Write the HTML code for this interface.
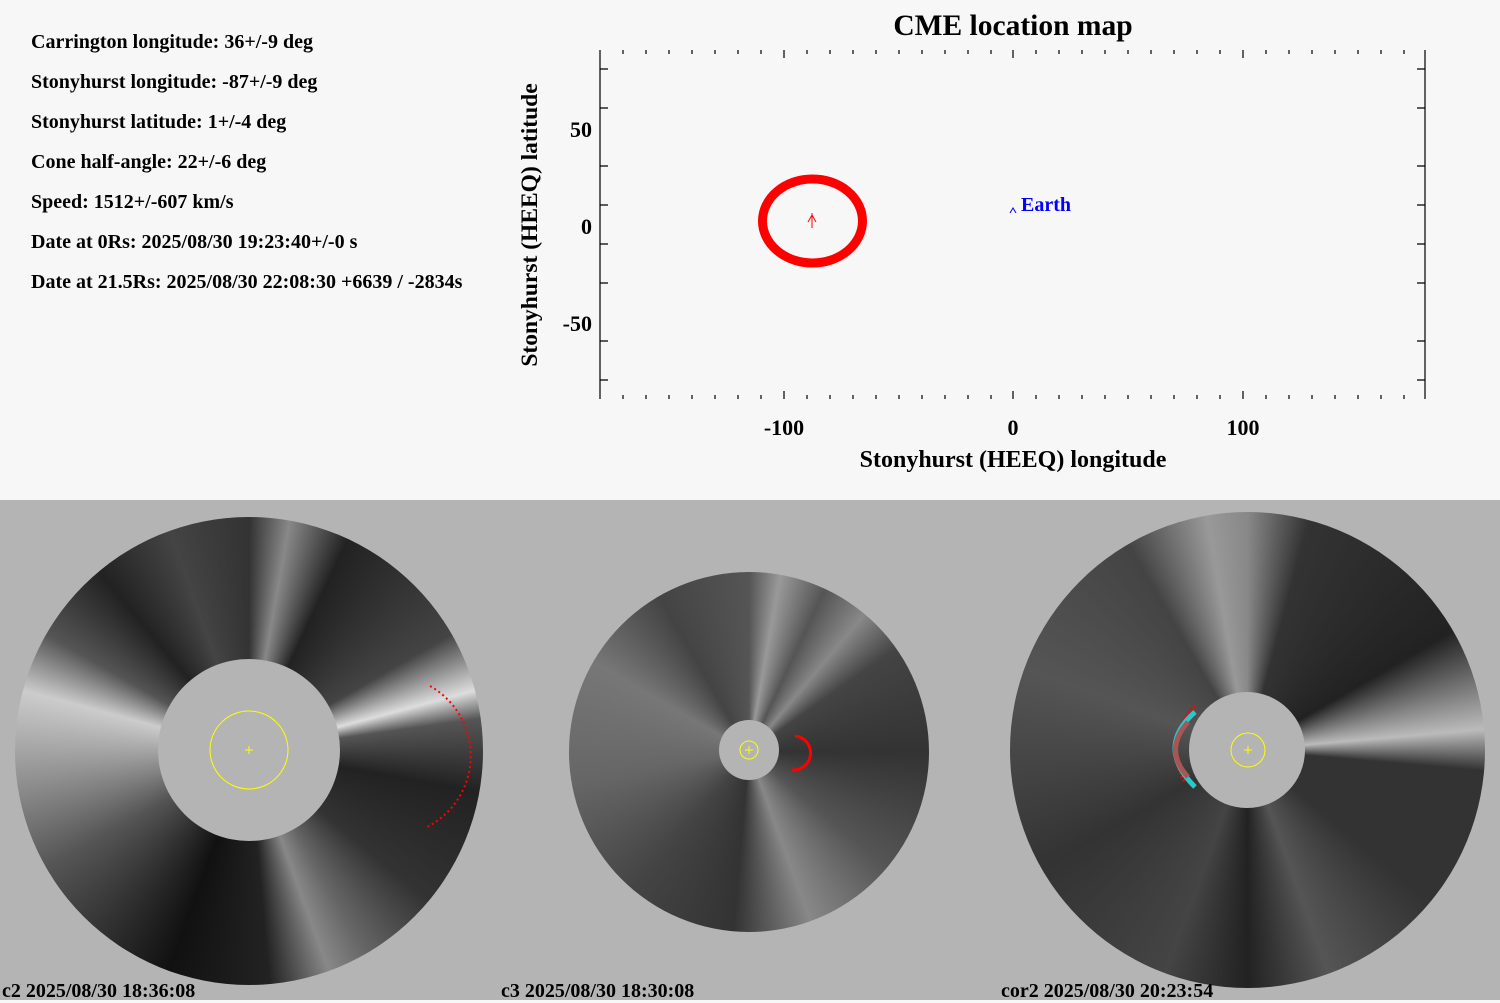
<!DOCTYPE html>
<html><head><style>
body{margin:0;width:1500px;height:1000px;background:#f7f7f7;overflow:hidden;position:relative;font-family:"Liberation Serif",serif;font-weight:bold}
.t{position:absolute;left:31px;font-size:20px;color:#000}
.bot{position:absolute;left:0;top:500px;width:1500px;height:500px;background:#b4b4b4}
.disk{position:absolute;border-radius:50%}
.lab{position:absolute;font-size:20px;color:#000;top:980px}
</style></head><body>
<div class="t" style="top:31px">Carrington longitude: 36+/-9 deg</div>
<div class="t" style="top:71px">Stonyhurst longitude: -87+/-9 deg</div>
<div class="t" style="top:111px">Stonyhurst latitude: 1+/-4 deg</div>
<div class="t" style="top:151px">Cone half-angle: 22+/-6 deg</div>
<div class="t" style="top:191px">Speed: 1512+/-607 km/s</div>
<div class="t" style="top:231px">Date at 0Rs: 2025/08/30 19:23:40+/-0 s</div>
<div class="t" style="top:271px">Date at 21.5Rs: 2025/08/30 22:08:30 +6639 / -2834s</div>
<svg width="1500" height="500" style="position:absolute;left:0;top:0" font-family="Liberation Serif,serif" font-weight="bold">
<text x="1013" y="35" font-size="29.5" text-anchor="middle">CME location map</text>
<g stroke="#000" stroke-width="1.2" fill="none">
<line x1="600" y1="50" x2="600" y2="399"/><line x1="1425" y1="50" x2="1425" y2="399"/>
<path d="M600 69h8M600 108h8M600 166h8M600 205h8M600 244h8M600 283h8M600 341h8M600 380h8M1425 69h-8M1425 108h-8M1425 166h-8M1425 205h-8M1425 244h-8M1425 283h-8M1425 341h-8M1425 380h-8"/>
<path d="M623 50v4M646 50v4M669 50v4M692 50v4M715 50v4M738 50v4M761 50v4M784 50v8M807 50v4M830 50v4M853 50v4M876 50v4M899 50v4M922 50v4M945 50v4M968 50v4M991 50v4M1013 50v8M1036 50v4M1059 50v4M1082 50v4M1105 50v4M1128 50v4M1151 50v4M1174 50v4M1197 50v4M1220 50v4M1243 50v8M1266 50v4M1289 50v4M1312 50v4M1335 50v4M1358 50v4M1381 50v4M1404 50v4"/>
<path d="M623 399v-4M646 399v-4M669 399v-4M692 399v-4M715 399v-4M738 399v-4M761 399v-4M784 399v-8M807 399v-4M830 399v-4M853 399v-4M876 399v-4M899 399v-4M922 399v-4M945 399v-4M968 399v-4M991 399v-4M1013 399v-8M1036 399v-4M1059 399v-4M1082 399v-4M1105 399v-4M1128 399v-4M1151 399v-4M1174 399v-4M1197 399v-4M1220 399v-4M1243 399v-8M1266 399v-4M1289 399v-4M1312 399v-4M1335 399v-4M1358 399v-4M1381 399v-4M1404 399v-4"/>
</g>
<g font-size="22" text-anchor="middle">
<text x="784" y="435">-100</text><text x="1013" y="435">0</text><text x="1243" y="435">100</text>
<text x="1013" y="467" font-size="24">Stonyhurst (HEEQ) longitude</text>
<text x="592" y="137" text-anchor="end">50</text><text x="592" y="234" text-anchor="end">0</text><text x="592" y="331" text-anchor="end">-50</text>
<text transform="translate(537,225) rotate(-90)" font-size="23.5">Stonyhurst (HEEQ) latitude</text>
</g>
<ellipse cx="812.5" cy="221" rx="50" ry="42" fill="none" stroke="#f00" stroke-width="9"/>
<path d="M812 213v15M808 222l4-7 4 7" stroke="#f00" fill="none" stroke-width="1"/>
<path d="M1010 213l3-5 3 5" stroke="#00f" fill="none" stroke-width="1"/>
<text x="1021" y="211" fill="#00f" font-size="20">Earth</text>
</svg>
<div class="bot"></div>
<div class="disk" style="left:15px;top:517px;width:468px;height:468px;background:conic-gradient(from 0deg,#333 0deg,#888 10deg,#222 25deg,#444 60deg,#ddd 75deg,#555 82deg,#222 100deg,#333 130deg,#666 150deg,#888 160deg,#222 175deg,#111 200deg,#555 240deg,#ccc 285deg,#555 300deg,#222 320deg,#444 340deg,#333 360deg)"></div>
<div class="disk" style="left:158px;top:659px;width:182px;height:182px;background:#b4b4b4"></div>
<div class="disk" style="left:569px;top:572px;width:360px;height:360px;background:conic-gradient(from 0deg,#555 0deg,#999 10deg,#555 25deg,#888 40deg,#444 55deg,#333 90deg,#555 130deg,#888 160deg,#333 185deg,#444 220deg,#666 260deg,#777 300deg,#444 330deg,#555 360deg)"></div>
<div class="disk" style="left:719px;top:720px;width:60px;height:60px;background:#b4b4b4"></div>
<div class="disk" style="left:1010px;top:512px;width:475px;height:476px;background:conic-gradient(from 0deg,#888 0deg,#333 15deg,#222 60deg,#bbb 85deg,#333 95deg,#333 130deg,#555 160deg,#222 180deg,#444 200deg,#333 240deg,#555 290deg,#444 330deg,#999 350deg,#888 360deg)"></div>
<div class="disk" style="left:1189px;top:692px;width:116px;height:116px;background:#b4b4b4"></div>
<svg width="1500" height="500" style="position:absolute;left:0;top:500px">
<circle cx="249" cy="250" r="39" fill="none" stroke="#ff0" stroke-width="1"/><path d="M245 250h8M249 246v8" stroke="#ff0"/>
<path d="M430 186 A80 80 0 0 1 425 328" fill="none" stroke="#f00" stroke-width="2" stroke-dasharray="2 3"/>
<circle cx="749" cy="250" r="9" fill="none" stroke="#ff0" stroke-width="1"/><path d="M745 250h8M749 246v8" stroke="#ff0"/>
<path d="M795 236 A16 16 0 0 1 792 270" fill="none" stroke="#f00" stroke-width="3"/>
<circle cx="1248" cy="250" r="17" fill="none" stroke="#ff0" stroke-width="1"/><path d="M1244 250h8M1248 246v8" stroke="#ff0"/>
<path d="M1195 206 A60 60 0 0 0 1185 282" fill="none" stroke="#f00" stroke-width="3" stroke-dasharray="2 2"/>
<path d="M1195 212 q-40 35 0 75" fill="none" stroke="#2cc" stroke-width="5"/>
<path d="M1188 222 q-25 28 0 55" fill="none" stroke="#a55" stroke-width="5"/>
</svg>
<div class="lab" style="left:2px">c2 2025/08/30 18:36:08</div>
<div class="lab" style="left:501px">c3 2025/08/30 18:30:08</div>
<div class="lab" style="left:1001px">cor2 2025/08/30 20:23:54</div>
</body></html>
